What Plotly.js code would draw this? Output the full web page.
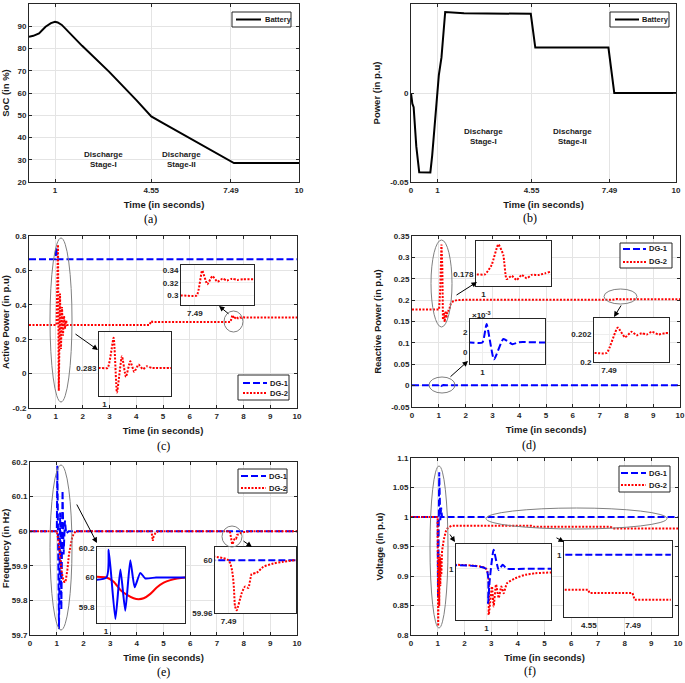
<!DOCTYPE html>
<html><head><meta charset="utf-8">
<script src="https://cdn.plot.ly/plotly-3.0.1.min.js"></script>
<style>html,body{margin:0;padding:0;background:#fff;}#chart{width:685px;height:683px;}</style>
</head><body><div id="chart"></div>
<script>
// ---------------- DATA ----------------
// (a) Battery SoC
const socT = [0.04, 0.2, 0.41, 0.65, 0.85, 1.0, 1.1, 1.25, 2, 3, 4, 4.55, 5, 6, 7, 7.6, 8, 9, 10];
const socV = [85.3, 85.7, 86.8, 89.8, 91.4, 92.0, 91.7, 90.6, 81.2, 69.5, 56.8, 49.5, 46.4, 39.5, 32.5, 28.5, 28.5, 28.5, 28.5];
// (b) Battery power
const batT = [0, 0.05, 0.1, 0.2, 0.31, 0.5, 0.73, 0.8, 0.9, 0.98, 1.05, 1.15, 1.29, 2, 3, 4, 4.52, 4.69, 5, 6, 7, 7.45, 7.67, 8, 9, 10];
const batP = [0, -0.006, -0.008, -0.03, -0.0445, -0.0446, -0.0446, -0.035, -0.018, 0, 0.01, 0.02, 0.0455, 0.0448, 0.0447, 0.0446, 0.0445, 0.0255, 0.0255, 0.0255, 0.0255, 0.0255, 0, 0, 0, 0];
// (c) Active power
const pDG1T = [0, 1.0, 1.01, 1.04, 1.06, 10];
const pDG1 = [0.665, 0.665, 0.735, 0.70, 0.665, 0.665];
const pDG2T = [0, 0.95, 1.028, 1.082, 1.112, 1.157, 1.193, 1.232, 1.268, 1.307, 1.346, 1.382, 1.427, 1.6, 4.5, 4.56, 4.62, 4.7, 7.3, 7.515, 7.59, 7.66, 7.73, 7.80, 7.87, 7.93, 8.0, 8.07, 8.15, 8.3, 10];
const pDG2 = [0.283, 0.283, 0.283, 0.75, -0.1, 0.465, 0.143, 0.387, 0.221, 0.335, 0.262, 0.309, 0.283, 0.283, 0.283, 0.306, 0.3, 0.3, 0.3, 0.3, 0.34, 0.318, 0.331, 0.322, 0.327, 0.324, 0.327, 0.325, 0.326, 0.326, 0.326];
// (d) Reactive power (DG-1 in units of 1e-3 p.u)
const qDG1T = [0, 0.9, 0.999, 1.033, 1.092, 1.167, 1.239, 1.292, 1.5, 10];
const qDG1milli = [1, 1, 1, 2.83, -0.67, 1.35, 0.83, 1.03, 1, 1];
const qDG2T = [0, 0.95, 1.01, 1.054, 1.099, 1.132, 1.154, 1.188, 1.221, 1.254, 1.288, 1.321, 1.366, 1.41, 1.45, 1.55, 1.7, 2.0, 2.5, 7.25, 7.453, 7.629, 7.746, 7.853, 7.933, 8.013, 8.093, 8.173, 8.279, 8.386, 8.45, 10];
const qDG2 = [0.178, 0.178, 0.178, 0.225, 0.33, 0.276, 0.154, 0.171, 0.149, 0.175, 0.158, 0.175, 0.175, 0.183, 0.192, 0.198, 0.2004, 0.20066, 0.20066, 0.20066, 0.20066, 0.2025, 0.2018, 0.2022, 0.20195, 0.2021, 0.2020, 0.2022, 0.2020, 0.2021, 0.2021, 0.2021];
// (e) Frequency
const fDG1T = [0, 1.004, 1.025, 1.085, 1.13, 1.174, 1.219, 1.258, 1.309, 1.354, 1.45, 1.6, 10];
const fDG1 = [60, 60, 60.189, 59.717, 60.054, 59.773, 60.117, 59.933, 60.031, 59.993, 60, 60, 60];
const fDG2T = [0, 1.004, 1.07, 1.13, 1.19, 1.249, 1.294, 1.339, 1.399, 1.459, 1.519, 1.579, 1.639, 1.713, 4.55, 4.6, 4.63, 4.7, 4.8, 7.486, 7.565, 7.584, 7.643, 7.682, 7.721, 7.76, 7.819, 7.897, 8.014, 8.131, 8.28, 10];
const fDG2 = [60, 60, 59.971, 59.915, 59.881, 59.858, 59.852, 59.858, 59.888, 59.933, 59.964, 59.982, 59.993, 60, 60, 59.972, 59.985, 59.995, 60, 60, 59.965, 59.962, 59.975, 59.98, 59.979, 59.9895, 59.9905, 59.995, 59.9975, 59.99875, 60, 60];
// (f) Voltage
const vDG1T = [0, 0.997, 1.013, 1.026, 1.057, 1.097, 1.128, 1.163, 1.3, 10];
const vDG1 = [1, 1, 0.862, 0.953, 1.076, 0.9946, 1.016, 1.0, 1.0, 1.0];
const vDG2T = [0, 0.997, 1.018, 1.044, 1.057, 1.076, 1.097, 1.118, 1.136, 1.163, 1.228, 1.307, 1.386, 1.51, 1.7, 4.5, 4.6, 7.45, 7.6, 10];
const vDG2 = [1, 1, 0.815, 0.929, 0.849, 0.937, 0.883, 0.929, 0.902, 0.942, 0.962, 0.976, 0.982, 0.985, 0.985, 0.985, 0.9836, 0.9836, 0.9807, 0.9807];

// tick labels
const ticksA_x = [1, 4.55, 7.49, 10];
const ticksA_y = [20, 30, 40, 50, 60, 70, 80, 90, 100];
const ticksB_x = [0, 1, 4.55, 7.49, 10];
const ticksB_y = [-0.05, 0, 0.05];
const ticksTime = [0, 1, 2, 3, 4, 5, 6, 7, 8, 9, 10];
const ticksC_y = [-0.2, 0, 0.2, 0.4, 0.6, 0.8];
const ticksD_y = [-0.05, 0, 0.05, 0.1, 0.15, 0.2, 0.25, 0.3, 0.35];
const ticksE_y = [59.7, 59.8, 59.9, 60, 60.1, 60.2];
const ticksF_y = [0.8, 0.85, 0.9, 0.95, 1, 1.05, 1.1];

// ---------------- LAYOUT HELPERS ----------------
const W = 685, H = 683;
const FONT = 'Liberation Sans, Arial, sans-serif';
const tickFont = {family: FONT, size: 8, color: '#262626', weight: 'bold'};
const titleFont = {family: FONT, size: 9.5, color: '#1a1a1a', weight: 'bold'};
const AX = '#262626', GRID = '#e4e4e4';
const BLUE = '#0000ff', RED = '#ff0000';
const dx = (a, b) => [a / W, b / W];
const dy = (t, b) => [1 - b / H, 1 - t / H];
const px = p => p / W, py = p => 1 - p / H;

function mainAx(dom, range, tv, anchor, title) {
  return {domain: dom, range: range, tickvals: tv, ticktext: tv.map(String), anchor: anchor,
    showline: true, mirror: 'ticks', linecolor: AX, linewidth: 1, ticks: 'inside', ticklen: 3,
    tickcolor: AX, showgrid: true, gridcolor: GRID, gridwidth: 1, zeroline: false,
    tickfont: tickFont, title: {text: title, font: titleFont, standoff: 7}, automargin: false};
}
function insetAx(dom, range, tv, anchor, tt) {
  return {domain: dom, range: range, tickvals: tv, ticktext: tt || tv.map(String), anchor: anchor,
    showline: true, mirror: true, linecolor: AX, linewidth: 1, ticks: '', showgrid: true,
    gridcolor: '#eeeeee', zeroline: false, tickfont: tickFont, automargin: false};
}

const layout = {
  width: W, height: H, margin: {l: 0, r: 0, t: 0, b: 0},
  paper_bgcolor: '#fff', plot_bgcolor: '#fff', showlegend: false,
  font: {family: FONT},
  xaxis:  mainAx(dx(29, 299), [0.04, 10], ticksA_x, 'y', 'Time (in seconds)'),
  yaxis:  mainAx(dy(4, 182), [20, 100], ticksA_y, 'x', 'SoC (in %)'),
  xaxis2: mainAx(dx(411, 676), [0, 10], ticksB_x, 'y2', 'Time (in seconds)'),
  yaxis2: mainAx(dy(4, 182), [-0.05, 0.05], ticksB_y, 'x2', 'Power (in p.u)'),
  xaxis3: mainAx(dx(29, 297), [0, 10], ticksTime, 'y3', 'Time (in seconds)'),
  yaxis3: mainAx(dy(236, 408), [-0.2, 0.8], ticksC_y, 'x3', 'Active Power (in p.u)'),
  xaxis4: mainAx(dx(412, 680), [0, 10], ticksTime, 'y4', 'Time (in seconds)'),
  yaxis4: mainAx(dy(236, 407), [-0.05, 0.35], ticksD_y, 'x4', 'Reactive Power (in p.u)'),
  xaxis5: mainAx(dx(30, 297), [0, 10], ticksTime, 'y5', 'Time (in seconds)'),
  yaxis5: mainAx(dy(462, 635), [59.7, 60.2], ticksE_y, 'x5', 'Frequency (in Hz)'),
  xaxis6: mainAx(dx(411, 678), [0, 10], ticksTime, 'y6', 'Time (in seconds)'),
  yaxis6: mainAx(dy(458, 635), [0.8, 1.1], ticksF_y, 'x6', 'Voltage (in p.u)'),
  xaxis7:  insetAx(dx(99, 171), [0.95, 1.6], [1], 'y7'),
  yaxis7:  insetAx(dy(332, 396), [-0.153, 0.84], [0.283], 'x7'),
  xaxis8:  insetAx(dx(181, 254), [7.3, 8.3], [7.49], 'y8'),
  yaxis8:  insetAx(dy(265, 305), [0.2845, 0.349], [0.3, 0.32, 0.34], 'x8'),
  xaxis9:  insetAx(dx(476, 551), [0.95, 1.45], [1], 'y9'),
  yaxis9:  insetAx(dy(241, 286), [0.119, 0.347], [0.178], 'x9'),
  xaxis10: insetAx(dx(470, 545), [0.9, 1.5], [1], 'y10'),
  yaxis10: insetAx(dy(319, 364), [-0.00113, 0.00333], [0, 0.002], 'x10', ['0', '2']),
  xaxis11: insetAx(dx(594, 669), [7.25, 8.45], [7.49], 'y11'),
  yaxis11: insetAx(dy(318, 362), [0.2, 0.2032], [0.2, 0.202], 'x11'),
  xaxis12: insetAx(dx(97, 185), [0.92, 1.71], [1], 'y12'),
  yaxis12: insetAx(dy(547, 623), [59.69, 60.207], [59.8, 60, 60.2], 'x12'),
  xaxis13: insetAx(dx(215, 296), [7.33, 8.28], [7.49], 'y13'),
  yaxis13: insetAx(dy(547, 613), [59.96, 60.01], [59.96, 60], 'x13'),
  xaxis14: insetAx(dx(456, 551), [0.76, 1.51], [1], 'y14'),
  yaxis14: insetAx(dy(544, 620), [0.795, 1.099], [1], 'x14'),
  xaxis15: insetAx(dx(564, 672), [2.9, 10.08], [4.55, 7.49], 'y15'),
  yaxis15: insetAx(dy(541, 617), [0.9733, 1.0059], [1], 'x15'),
  shapes: [], annotations: []
};

// white backgrounds of insets (drawn inside each inset subplot, below its traces)
for (let i = 7; i <= 15; i++) {
  const xa = layout['xaxis' + i], ya = layout['yaxis' + i];
  layout.shapes.push({type: 'rect', xref: 'x' + i, yref: 'y' + i, x0: xa.range[0], x1: xa.range[1],
    y0: ya.range[0], y1: ya.range[1], fillcolor: '#fff', line: {width: 0}, layer: 'below'});
}
// ellipses (page pixel boxes)
const ellipses = [[50, 238, 72, 402], [224, 311, 243, 332],
  [431, 240, 452, 327], [429, 377, 455, 393], [604, 289, 637, 304],
  [50, 465, 72, 630], [222, 526, 242, 547],
  [430, 466, 448, 628], [486, 508, 667, 529]];
ellipses.forEach(e => layout.shapes.push({type: 'circle', xref: 'paper', yref: 'paper',
  x0: px(e[0]), x1: px(e[2]), y0: py(e[3]), y1: py(e[1]), line: {color: '#808080', width: 1}, layer: 'above'}));
// arrows: head x,y ; tail x,y
const arrows = [[98, 350, 74, 333], [219, 306, 230, 315],
  [477, 282, 455, 296], [468, 361, 449, 378], [614, 317, 622, 304],
  [97, 543, 76, 503], [252, 547, 242, 540],
  [455, 542, 449, 533], [564, 542, 555, 537]];
arrows.forEach(a => layout.annotations.push({xref: 'paper', yref: 'paper', x: px(a[0]), y: py(a[1]),
  ax: a[2] - a[0], ay: a[3] - a[1], text: '', showarrow: true, arrowhead: 2, arrowsize: 1.1,
  arrowwidth: 1, arrowcolor: '#000'}));

// legends drawn as boxes with line samples
const txtFont = {family: FONT, size: 8, color: '#1a1a1a', weight: 'bold'};
const legFont = {family: FONT, size: 7.5, color: '#1a1a1a', weight: 'bold'};
const BLK = {color: '#000', width: 2};
const BLUE_L = {color: BLUE, width: 2, dash: '7px,3px'};
const RED_L = {color: RED, width: 2, dash: '2px,1.5px'};
const legends = [
  {box: [232, 12, 291, 27], lx: [236, 261], tx: 263, rows: [[19.5, BLK, 'Battery']]},
  {box: [610, 12, 669, 27], lx: [615, 639], tx: 640, rows: [[19.5, BLK, 'Battery']]},
  {box: [238, 375, 289, 400], lx: [243, 267], tx: 268, rows: [[383, BLUE_L, 'DG-1'], [393, RED_L, 'DG-2']]},
  {box: [620, 243, 672, 268], lx: [623, 646], tx: 647, rows: [[249, BLUE_L, 'DG-1'], [262, RED_L, 'DG-2']]},
  {box: [238, 469, 287, 493], lx: [241, 266], tx: 267, rows: [[476, BLUE_L, 'DG-1'], [488, RED_L, 'DG-2']]},
  {box: [619, 466, 670, 492], lx: [621, 646], tx: 647, rows: [[473, BLUE_L, 'DG-1'], [485, RED_L, 'DG-2']]}
];
legends.forEach(L => {
  layout.shapes.push({type: 'rect', xref: 'paper', yref: 'paper', x0: px(L.box[0]), x1: px(L.box[2]),
    y0: py(L.box[3]), y1: py(L.box[1]), fillcolor: '#fff', line: {color: AX, width: 1}, layer: 'above'});
  L.rows.forEach(r => {
    layout.shapes.push({type: 'line', xref: 'paper', yref: 'paper', x0: px(L.lx[0]), x1: px(L.lx[1]),
      y0: py(r[0]), y1: py(r[0]), line: r[1], layer: 'above'});
    layout.annotations.push({xref: 'paper', yref: 'paper', x: px(L.tx), y: py(r[0]), xanchor: 'left',
      yanchor: 'middle', text: r[2], showarrow: false, font: legFont});
  });
});

// text annotations
layout.annotations.push(
  {xref: 'x', yref: 'y', x: 2.77, y: 30, text: 'Discharge<br>Stage-I', showarrow: false, font: txtFont, xanchor: 'center', yanchor: 'middle'},
  {xref: 'x', yref: 'y', x: 5.68, y: 30, text: 'Discharge<br>Stage-II', showarrow: false, font: txtFont, xanchor: 'center', yanchor: 'middle'},
  {xref: 'x2', yref: 'y2', x: 2.75, y: -0.0245, text: 'Discharge<br>Stage-I', showarrow: false, font: txtFont, xanchor: 'center', yanchor: 'middle'},
  {xref: 'x2', yref: 'y2', x: 6.11, y: -0.0245, text: 'Discharge<br>Stage-II', showarrow: false, font: txtFont, xanchor: 'center', yanchor: 'middle'},
  {xref: 'paper', yref: 'paper', x: px(470), y: py(315), xanchor: 'left', yanchor: 'middle', text: '×10<sup>-3</sup>', showarrow: false, font: txtFont}
);
const capFont = {family: 'Liberation Serif, Times New Roman, serif', size: 12, color: '#000'};
[['(a)', 150, 219], ['(b)', 530, 218], ['(c)', 163, 446], ['(d)', 529, 445], ['(e)', 163, 672], ['(f)', 530, 671]]
  .forEach(c => layout.annotations.push({xref: 'paper', yref: 'paper', x: px(c[1]), y: py(c[2]),
    xanchor: 'center', yanchor: 'middle', text: c[0], showarrow: false, font: capFont}));

// ---------------- TRACES ----------------
const mainBlue = {color: BLUE, width: 2, dash: '7px,3px'};
const mainRed = {color: RED, width: 2, dash: '2px,1.5px'};
const insBlue = {color: BLUE, width: 2, dash: '7px,3px', shape: 'spline', smoothing: 0.5};
const insRed = {color: RED, width: 2, dash: '2px,1.5px', shape: 'spline', smoothing: 0.5};
function tr(x, y, xa, ya, line, name) {
  return {type: 'scatter', mode: 'lines', x: x, y: y, xaxis: xa, yaxis: ya, line: line,
    name: name || '', showlegend: false, hoverinfo: 'skip'};
}
const qDG1 = qDG1milli.map(v => v * 1e-3);
const data = [
  tr(socT, socV, 'x', 'y', BLK, 'Battery'),
  tr(batT, batP, 'x2', 'y2', BLK, 'Battery'),
  tr(pDG1T, pDG1, 'x3', 'y3', mainBlue, 'DG-1'),
  tr(pDG2T, pDG2, 'x3', 'y3', mainRed, 'DG-2'),
  tr(qDG1T, qDG1, 'x4', 'y4', mainBlue, 'DG-1'),
  tr(qDG2T, qDG2, 'x4', 'y4', mainRed, 'DG-2'),
  tr(fDG1T, fDG1, 'x5', 'y5', mainBlue, 'DG-1'),
  tr(fDG2T, fDG2, 'x5', 'y5', mainRed, 'DG-2'),
  tr(vDG1T, vDG1, 'x6', 'y6', mainBlue, 'DG-1'),
  tr(vDG2T, vDG2, 'x6', 'y6', mainRed, 'DG-2'),
  // insets
  tr(pDG2T, pDG2, 'x7', 'y7', insRed),
  tr(pDG2T, pDG2, 'x8', 'y8', insRed),
  tr(qDG2T, qDG2, 'x9', 'y9', insRed),
  tr(qDG1T, qDG1, 'x10', 'y10', insBlue),
  tr(qDG2T, qDG2, 'x11', 'y11', insRed),
  tr(fDG2T, fDG2, 'x12', 'y12', {color: RED, width: 2, shape: 'spline', smoothing: 0.5}),
  tr(fDG1T, fDG1, 'x12', 'y12', {color: BLUE, width: 2, shape: 'spline', smoothing: 0.5}),
  tr(fDG1T, fDG1, 'x13', 'y13', insBlue),
  tr(fDG2T, fDG2, 'x13', 'y13', insRed),
  tr(vDG2T, vDG2, 'x14', 'y14', insRed),
  tr(vDG1T, vDG1, 'x14', 'y14', insBlue),
  tr(vDG1T, vDG1, 'x15', 'y15', mainBlue),
  tr(vDG2T, vDG2, 'x15', 'y15', mainRed)
];

Plotly.newPlot('chart', data, layout, {staticPlot: true, displayModeBar: false});
</script>
</body></html>
